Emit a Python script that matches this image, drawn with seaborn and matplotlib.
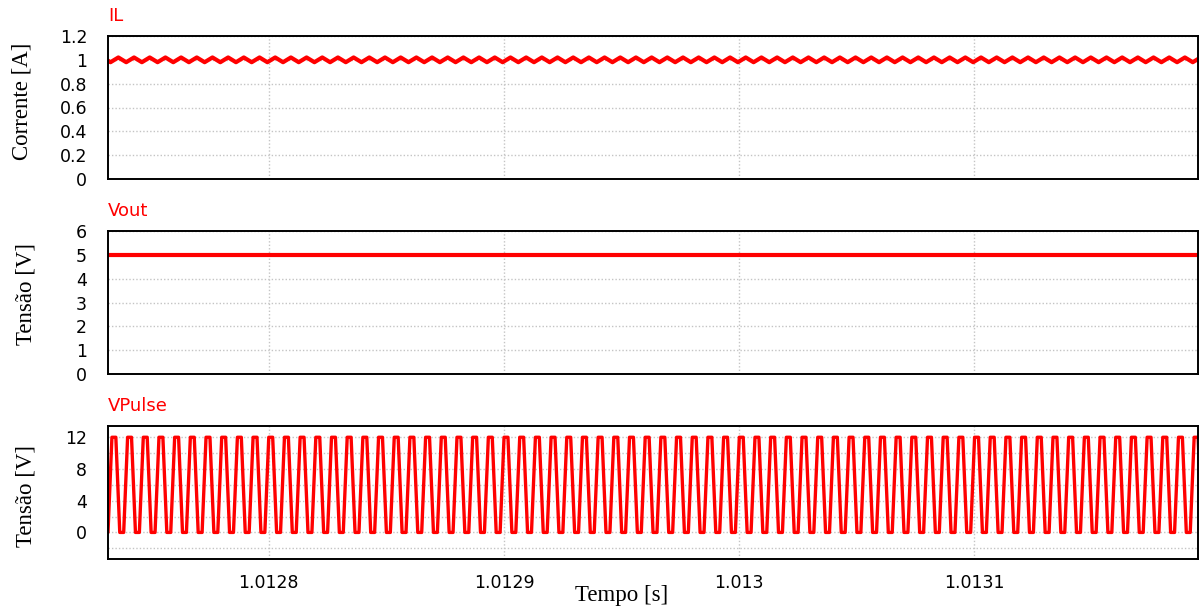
import numpy as np
import pandas as pd
import matplotlib
matplotlib.use("Agg")
import matplotlib.pyplot as plt
import seaborn as sns

# ---------------- data ----------------
T_START = 1.0127317          # left edge of the time axis [s]
T_END = 1.013195             # right edge of the time axis [s]
PERIOD = 6.6667e-6           # switching period (150 kHz)
N_PERIODS = 71

# one switching period of each waveform: phase (fraction of period) -> value
PULSE_PHASE = [0.0, 0.25, 0.50, 0.75]
PULSE_VOLT = [0.0, 12.0, 12.0, 0.0]

IL_PHASE = [0.0, 0.16, 0.66]
IL_AMP = [0.993, 0.980, 1.020]

VOUT_PHASE = [0.0, 0.5]
VOUT_VOLT = [5.0, 5.0]

X_TICKS = [1.0128, 1.0129, 1.0130, 1.0131]
X_TICK_LABELS = ["1.0128", "1.0129", "1.013", "1.0131"]

IL_YTICKS = [0, 0.2, 0.4, 0.6, 0.8, 1.0, 1.2]
IL_YTICK_LABELS = ["0", "0.2", "0.4", "0.6", "0.8", "1", "1.2"]
VOUT_YTICKS = [0, 1, 2, 3, 4, 5, 6]
VP_YTICKS = [0, 4, 8, 12]
VP_YMINOR = [-2, 2, 6, 10]

TITLES = ["IL", "Vout", "VPulse"]
YLABELS = ["Corrente [A]", "Tensão [V]", "Tensão [V]"]
XLABEL = "Tempo [s]"


def periodic(phase, values):
    ph = np.asarray(phase)
    vals = np.asarray(values)
    k = np.repeat(np.arange(N_PERIODS), len(ph))
    t = T_START + (k + np.tile(ph, N_PERIODS)) * PERIOD
    v = np.tile(vals, N_PERIODS)
    return pd.DataFrame({"t": t, "v": v})


df_il = periodic(IL_PHASE, IL_AMP)
df_vout = periodic(VOUT_PHASE, VOUT_VOLT)
df_vp = periodic(PULSE_PHASE, PULSE_VOLT)

# ---------------- style ----------------
sns.set_theme(style="white")
plt.rcParams["font.family"] = ["DejaVu Sans"]
plt.rcParams["axes.edgecolor"] = "black"
plt.rcParams["axes.linewidth"] = 1.4

W, H = 1200, 609
fig = plt.figure(figsize=(W / 100, H / 100), dpi=100)


def box(top, bottom, left=108, right=1198):
    return [left / W, 1 - bottom / H, (right - left) / W, (bottom - top) / H]


ax1 = fig.add_axes(box(36, 179))
ax2 = fig.add_axes(box(231, 374))
ax3 = fig.add_axes(box(426, 559))

RED = "#ff0000"
GRID = dict(color="#c4c4c4", linestyle=(0, (1, 1.5)), linewidth=1.0)

sns.lineplot(data=df_il, x="t", y="v", ax=ax1, color=RED, linewidth=3.0,
             estimator=None, sort=False)
sns.lineplot(data=df_vout, x="t", y="v", ax=ax2, color=RED, linewidth=3.0,
             estimator=None, sort=False)
sns.lineplot(data=df_vp, x="t", y="v", ax=ax3, color=RED, linewidth=2.4,
             estimator=None, sort=False)

ax1.set_ylim(0, 1.2)
ax1.set_yticks(IL_YTICKS, IL_YTICK_LABELS)
ax2.set_ylim(0, 6)
ax2.set_yticks(VOUT_YTICKS, [str(v) for v in VOUT_YTICKS])
ax3.set_ylim(-3.35, 13.42)
ax3.set_yticks(VP_YTICKS, [str(v) for v in VP_YTICKS])
ax3.set_yticks(VP_YMINOR, minor=True)

for i, ax in enumerate([ax1, ax2, ax3]):
    ax.set_xlim(T_START, T_END)
    if i < 2:
        ax.set_xticks(X_TICKS, [""] * len(X_TICKS))
    else:
        ax.set_xticks(X_TICKS, X_TICK_LABELS)
    ax.set_xlabel("")
    ax.set_ylabel("")
    ax.grid(True, which="major", **GRID)
    if i == 2:
        ax.grid(True, which="minor", axis="y", **GRID)
    ax.set_axisbelow(True)
    ax.tick_params(axis="both", which="both", length=0, labelsize=12.5,
                   colors="black")
    ax.tick_params(axis="y", pad=15)
    ax.tick_params(axis="x", pad=11)
    for s in ax.spines.values():
        s.set_visible(True)
        s.set_color("black")
        s.set_linewidth(1.4)
    ax.set_title(TITLES[i], loc="left", color=RED, fontsize=13, pad=10.5)

# y labels (serif)
ylab_pos = [(22, 101), (26, 294), (26, 496)]
for (xp, yp), lab in zip(ylab_pos, YLABELS):
    fig.text(xp / W, 1 - yp / H, lab, rotation=90, ha="center", va="center",
             fontsize=16.5, family=["Liberation Serif", "DejaVu Serif"],
             color="black")

fig.text(622 / W, 1 - 596 / H, XLABEL, ha="center", va="center",
         fontsize=16.5, family=["Liberation Serif", "DejaVu Serif"],
         color="black")

fig.savefig("out.png", dpi=100, facecolor="white")
